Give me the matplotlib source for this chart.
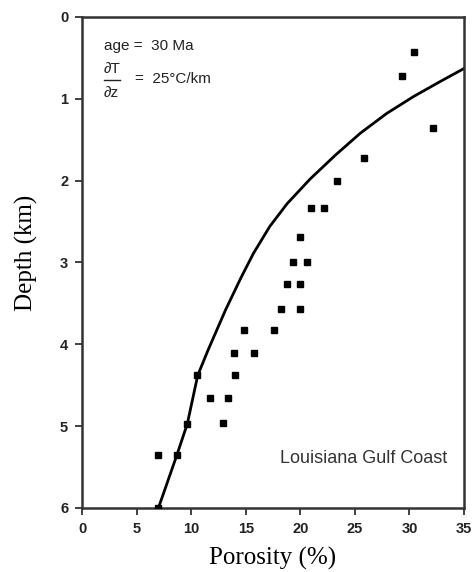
import matplotlib
matplotlib.use("Agg")
import matplotlib.pyplot as plt

# measured porosity (%) vs depth (km), Louisiana Gulf Coast
porosity = [30.4, 29.3, 32.2, 25.8, 23.4, 21.0, 22.2, 20.0, 19.3, 20.6,
            18.8, 20.0, 18.2, 20.0, 14.8, 17.6, 13.9, 15.8, 10.5, 14.0,
            11.7, 13.4, 9.6, 12.9, 7.0, 8.7, 7.0]
depth = [0.43, 0.72, 1.36, 1.72, 2.00, 2.33, 2.33, 2.69, 2.99, 2.99,
         3.26, 3.26, 3.57, 3.57, 3.83, 3.83, 4.10, 4.10, 4.37, 4.38,
         4.65, 4.65, 4.97, 4.96, 5.35, 5.35, 6.00]

# model curve (age = 30 Ma, 25 C/km)
curve_por = [35.2, 32.8, 30.4, 27.9, 25.5, 23.2, 20.9, 18.8, 17.2, 15.7,
             14.55, 13.15, 11.55, 10.6, 9.65, 8.7, 7.0]
curve_dep = [0.615, 0.79, 0.97, 1.18, 1.42, 1.69, 1.98, 2.28, 2.56, 2.89,
             3.19, 3.58, 4.07, 4.38, 4.97, 5.35, 6.00]

xticks = [0, 5, 10, 15, 20, 25, 30, 35]
yticks = [0, 1, 2, 3, 4, 5, 6]

SANS = "Liberation Sans"
SERIF = "Liberation Serif"
EDGE = "#333333"

fig = plt.figure(figsize=(4.73, 5.72), dpi=100)
ax = fig.add_axes([0.1734, 0.1119, 0.8076, 0.8584])

ax.plot(curve_por, curve_dep, color="black", linewidth=2.0, zorder=2,
        solid_joinstyle="round")
ax.plot(porosity, depth, linestyle="none", marker="s", markersize=4.5,
        color="black", zorder=3)

ax.set_xlim(0, 35)
ax.set_ylim(6, 0)
ax.set_xticks(xticks)
ax.set_yticks(yticks)
ax.set_xticklabels([str(t) for t in xticks], fontfamily=SANS, fontweight="bold",
                   fontsize=10.5, color="#222222")
ax.set_yticklabels([str(t) for t in yticks], fontfamily=SANS, fontweight="bold",
                   fontsize=10.5, color="#222222")
ax.tick_params(direction="out", length=5, width=1.3, color=EDGE, pad=5)
for s in ax.spines.values():
    s.set_linewidth(1.8)
    s.set_color(EDGE)

ax.set_xlabel("Porosity (%)", fontfamily=SERIF, fontsize=18)
ax.set_ylabel("Depth (km)", fontfamily=SERIF, fontsize=18)
ax.xaxis.set_label_coords(0.5, -0.08)
ax.yaxis.set_label_coords(-0.116, 0.52)

ax.text(2.0, 0.355, "age =  30 Ma", fontfamily=SANS, fontsize=11,
        color="#222222", va="center", ha="left")
ax.text(2.0, 0.64, "∂T", fontfamily=SANS, fontsize=11, color="#222222",
        va="center", ha="left")
ax.plot([2.0, 3.5], [0.77, 0.77], color="#222222", linewidth=1.0)
ax.text(2.0, 0.93, "∂z", fontfamily=SANS, fontsize=11, color="#222222",
        va="center", ha="left")
ax.text(4.9, 0.76, "=  25°C/km", fontfamily=SANS, fontsize=11,
        color="#222222", va="center", ha="left")

ax.text(18.15, 5.39, "Louisiana Gulf Coast", fontfamily=SANS, fontsize=13,
        color="#333333", va="center", ha="left")

fig.savefig("out.png", dpi=100)
